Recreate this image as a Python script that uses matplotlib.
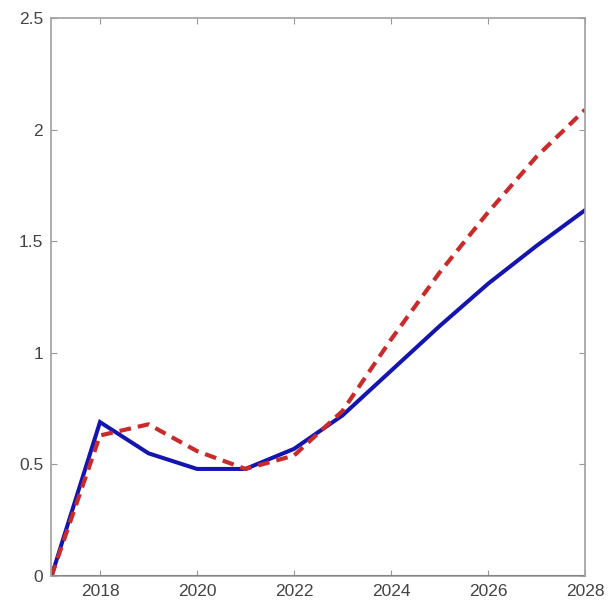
import numpy as np
import matplotlib.pyplot as plt

plt.rcParams['font.family'] = ['Liberation Sans', 'DejaVu Sans']

years = [2017, 2018, 2019, 2020, 2021, 2022, 2023, 2024, 2025, 2026, 2027, 2028]
blue_vals = [0.0, 0.69, 0.55, 0.48, 0.48, 0.57, 0.72, 0.92, 1.12, 1.31, 1.48, 1.64]
red_vals = [0.0, 0.63, 0.68, 0.56, 0.48, 0.54, 0.74, 1.06, 1.36, 1.63, 1.88, 2.09]
xticks = [2018, 2020, 2022, 2024, 2026, 2028]
yticks = [0, 0.5, 1, 1.5, 2, 2.5]
ytick_labels = ['0', '0.5', '1', '1.5', '2', '2.5']

fig = plt.figure(figsize=(6.08, 6.10), dpi=100)
ax = fig.add_axes([0.0847, 0.0557, 0.8775, 0.9143])

ax.plot(years, blue_vals, color='#1414b0', lw=2.9, solid_joinstyle='miter')
ax.plot(years, red_vals, color='#c92a2a', lw=3.0, ls=(0, (2.8, 1.7)))
ax.axhline(0, color='black', lw=2.2)

ax.set_xlim(2017, 2028)
ax.set_ylim(0, 2.5)
ax.set_xticks(xticks)
ax.set_yticks(yticks)
ax.set_yticklabels(ytick_labels)
ax.tick_params(direction='in', length=4, color='#999999', labelcolor='#444444',
               labelsize=12.5, top=True, right=True, pad=6)
for s in ax.spines.values():
    s.set_color('#a0a0a0')
    s.set_linewidth(1.2)

fig.savefig('out.png', dpi=100)
